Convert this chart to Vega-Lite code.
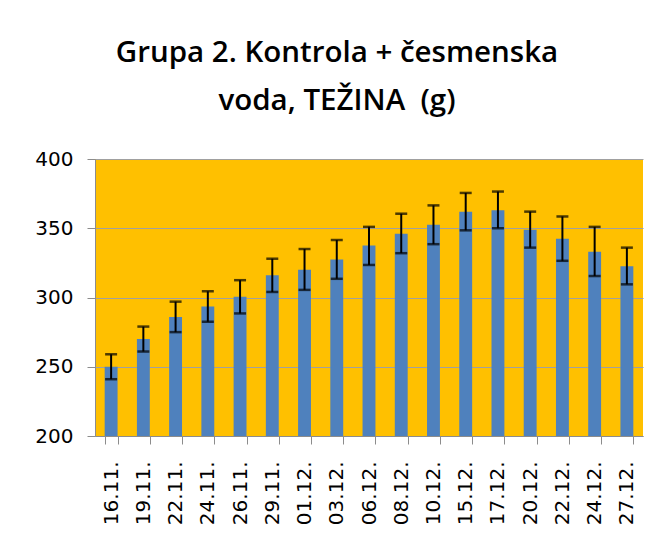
{
  "$schema": "https://vega.github.io/schema/vega-lite/v6.json",
  "width": 548,
  "height": 277,
  "autosize": {"type": "none"},
  "padding": {"left": 95, "top": 159, "right": 20, "bottom": 116},
  "background": "white",
  "title": {
    "text": ["Grupa 2. Kontrola + česmenska", "voda, TEŽINA \u00a0(g)"],
    "font": "Open Sans",
    "fontWeight": 600,
    "fontSize": 29.5,
    "lineHeight": 48,
    "color": "black",
    "anchor": "middle",
    "dx": -32,
    "offset": 33
  },
  "config": {
    "view": {"stroke": null, "fill": "#FFC000"},
    "axis": {"labelFont": "DejaVu Sans", "labelColor": "black", "domainColor": "#8c8c8c", "tickColor": "#8c8c8c", "gridColor": "#a0a0a0"}
  },
  "data": {
    "values": [
      {"date": "16.11.", "mean": 250, "lo": 241, "hi": 259},
      {"date": "19.11.", "mean": 270, "lo": 261, "hi": 279},
      {"date": "22.11.", "mean": 286, "lo": 275, "hi": 297},
      {"date": "24.11.", "mean": 293.5, "lo": 282.5, "hi": 304.5},
      {"date": "26.11.", "mean": 300.5, "lo": 288.5, "hi": 312.5},
      {"date": "29.11.", "mean": 316, "lo": 304, "hi": 328},
      {"date": "01.12.", "mean": 320, "lo": 305.5, "hi": 335},
      {"date": "03.12.", "mean": 327.5, "lo": 313.5, "hi": 341.5},
      {"date": "06.12.", "mean": 337.5, "lo": 323.5, "hi": 351},
      {"date": "08.12.", "mean": 346, "lo": 332, "hi": 360.5},
      {"date": "10.12.", "mean": 352.5, "lo": 338.5, "hi": 366.5},
      {"date": "15.12.", "mean": 362, "lo": 348.5, "hi": 375.5},
      {"date": "17.12.", "mean": 363, "lo": 350, "hi": 376.5},
      {"date": "20.12.", "mean": 349, "lo": 336, "hi": 362},
      {"date": "22.12.", "mean": 342.5, "lo": 326.5, "hi": 358.5},
      {"date": "24.12.", "mean": 333, "lo": 315.5, "hi": 351},
      {"date": "27.12.", "mean": 322.5, "lo": 309.5, "hi": 336}
    ]
  },
  "encoding": {
    "x": {
      "field": "date",
      "type": "ordinal",
      "sort": null,
      "scale": {"paddingInner": 0.6, "paddingOuter": 0.3},
      "axis": {
        "title": null,
        "labelAngle": -90,
        "labelFontSize": 20,
        "labelPadding": 17,
        "tickSize": 8,
        "tickBand": "extent",
        "domainColor": "#8c8c8c"
      }
    }
  },
  "layer": [
    {
      "mark": {"type": "bar", "color": "#4F81BD"},
      "encoding": {
        "y": {
          "field": "mean",
          "type": "quantitative",
          "scale": {"domain": [200, 400], "nice": false, "zero": false},
          "axis": {
            "title": null,
            "values": [200, 250, 300, 350, 400],
            "labelFontSize": 20,
            "labelPadding": 14,
            "tickSize": 8,
            "grid": true,
            "gridWidth": 1.2
          }
        },
        "y2": {"datum": 200}
      }
    },
    {
      "mark": {"type": "rule", "color": "black", "strokeWidth": 2},
      "encoding": {
        "y": {"field": "lo", "type": "quantitative"},
        "y2": {"field": "hi"}
      }
    },
    {
      "mark": {"type": "tick", "color": "black", "size": 12, "thickness": 2.5},
      "encoding": {"y": {"field": "lo", "type": "quantitative"}}
    },
    {
      "mark": {"type": "tick", "color": "black", "size": 12, "thickness": 2.5},
      "encoding": {"y": {"field": "hi", "type": "quantitative"}}
    }
  ]
}
